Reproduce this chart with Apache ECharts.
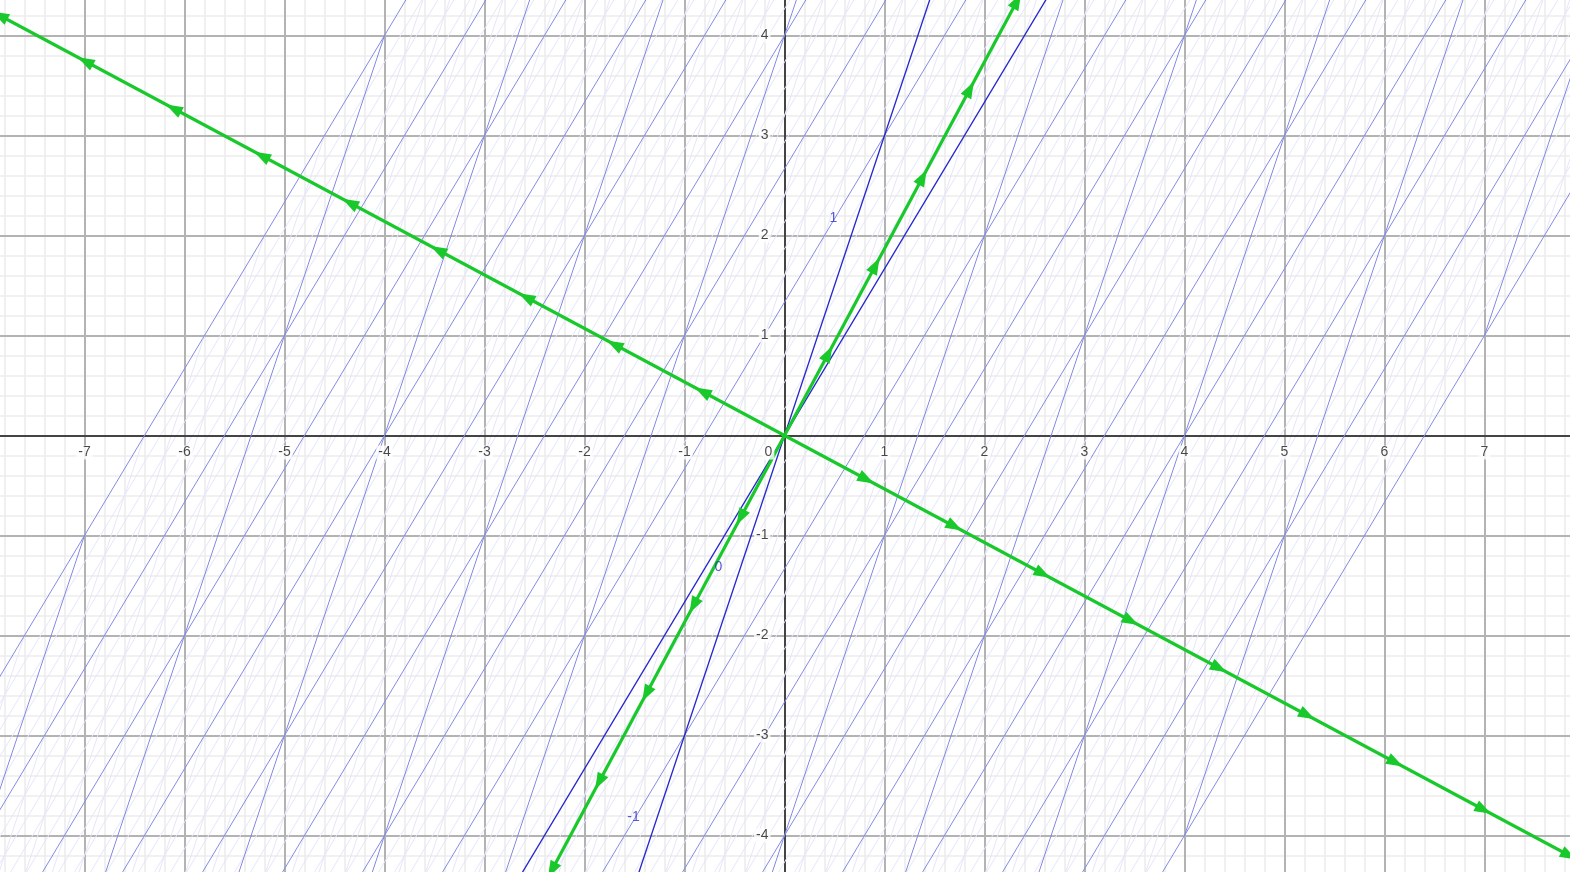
<!DOCTYPE html>
<html>
<head>
<meta charset="utf-8">
<script src="https://cdn.jsdelivr.net/npm/echarts@6/dist/echarts.min.js"></script>
<style>html,body{margin:0;padding:0;background:#fff;}#chart{width:1570px;height:872px;}</style>
</head>
<body>
<div id="chart"></div>
<script>
// ---- data ----
const matrixCol1 = [1, 3];        // image of e1
const matrixCol2 = [3, 5];        // image of e2
const sourceGridExtent = 8;       // source grid spans [-8, 8] x [-8, 8]
const xRange = [-7.845, 7.855];
const yRange = [-4.365, 4.355];
const xTickValues = [-7, -6, -5, -4, -3, -2, -1, 1, 2, 3, 4, 5, 6, 7];
const xTickLabels = ['-7', '-6', '-5', '-4', '-3', '-2', '-1', '1', '2', '3', '4', '5', '6', '7'];
const yTickValues = [-4, -3, -2, -1, 1, 2, 3, 4];
const yTickLabels = ['-4', '-3', '-2', '-1', '1', '2', '3', '4'];
const gridSubdivisions = 5;
const arrowDistances = [0.93, 1.93, 2.93, 3.93, 4.93, 5.93, 6.93, 7.93, 8.9, 9.9];
const lineLabelTexts = ['1', '0', '-1'];
const lineLabelX = [0.49, -0.66, -1.51];
const lineLabelY = [2.17, -1.32, -3.82];

// ---- derived geometry ----
const a = matrixCol1[0], c = matrixCol1[1], b = matrixCol2[0], d = matrixCol2[1];
const tr = a + d, det = a * d - b * c;
const disc = Math.sqrt(tr * tr / 4 - det);
const lambdas = [tr / 2 + disc, tr / 2 - disc];
const eigvecs = lambdas.map(l => {
  const v = [b, l - a];
  const n = Math.hypot(v[0], v[1]);
  return [v[0] / n, v[1] / n];
});
function apply(p) { return [a * p[0] + b * p[1], c * p[0] + d * p[1]]; }

const minorGrid = [], majorGrid = [];
for (let k = -39; k <= 39; k++) {
  const x = k / gridSubdivisions;
  (k % gridSubdivisions === 0 ? majorGrid : minorGrid).push({coords: [[x, yRange[0]], [x, yRange[1]]]});
}
for (let k = -21; k <= 21; k++) {
  const y = k / gridSubdivisions;
  (k % gridSubdivisions === 0 ? majorGrid : minorGrid).push({coords: [[xRange[0], y], [xRange[1], y]]});
}
const xAxisLine = [{coords: [[xRange[0], 0], [xRange[1], 0]]}];
const yAxisLine = [{coords: [[0, yRange[0]], [0, yRange[1]]]}];

const N = sourceGridExtent;
const tMinor = [], tMajor = [], tAxes = [];
for (let k = -N * gridSubdivisions; k <= N * gridSubdivisions; k++) {
  const s = k / gridSubdivisions;
  const vert = {coords: [apply([s, -N]), apply([s, N])]};
  const horiz = {coords: [apply([-N, s]), apply([N, s])]};
  [vert, horiz].forEach(l => {
    if (k === 0) tAxes.push(l); else if (k % gridSubdivisions === 0) tMajor.push(l); else tMinor.push(l);
  });
}

const eigenLines = eigvecs.map(v => ({coords: [[-12 * v[0], -12 * v[1]], [12 * v[0], 12 * v[1]]]}));
const arrowData = [];
eigvecs.forEach(v => {
  [1, -1].forEach(sgn => {
    const ang = Math.atan2(sgn * v[1], sgn * v[0]) * 180 / Math.PI;
    arrowDistances.forEach(dd => {
      arrowData.push({value: [sgn * v[0] * dd, sgn * v[1] * dd], symbolRotate: ang - 90});
    });
  });
});

const xLabelData = xTickValues.map((v, i) => ({value: [v, 0], label: {formatter: xTickLabels[i]}}));
const yLabelData = yTickValues.map((v, i) => ({value: [0, v], label: {formatter: yTickLabels[i]}}));
const lineLabelData = lineLabelTexts.map((t, i) => ({value: [lineLabelX[i], lineLabelY[i]], label: {formatter: t}}));

function linesSeries(data, color, width, z) {
  return {
    type: 'lines', coordinateSystem: 'cartesian2d', polyline: false, silent: true, clip: true,
    data: data, z: z, lineStyle: {color: color, width: width, opacity: 1}, effect: {show: false}
  };
}
const labelFont = {fontFamily: 'Liberation Sans, Arial, sans-serif', fontSize: 14, color: '#1a1a1a'};

const chart = echarts.init(document.getElementById('chart'), null, {renderer: 'canvas'});
chart.setOption({
  animation: false,
  backgroundColor: '#ffffff',
  grid: {left: 0, right: 0, top: 0, bottom: 0, containLabel: false},
  xAxis: {type: 'value', min: xRange[0], max: xRange[1], show: false, splitLine: {show: false}},
  yAxis: {type: 'value', min: yRange[0], max: yRange[1], show: false, splitLine: {show: false}},
  series: [
    linesSeries(minorGrid, '#ededed', 1.6, 1),
    linesSeries(majorGrid, '#b3b3b3', 2, 2),
    linesSeries(yAxisLine, '#444444', 2, 3),
    linesSeries(tMinor, '#e6e6fa', 1, 4),
    linesSeries(xAxisLine, '#444444', 2, 5),
    linesSeries(tMajor, '#848be4', 1, 6),
    linesSeries(tAxes, '#2222cf', 1.3, 7),
    linesSeries(eigenLines, '#19c92b', 3.2, 8),
    {
      type: 'scatter', silent: true, z: 9, symbol: 'triangle', symbolSize: [12, 17],
      itemStyle: {color: '#19c92b', opacity: 1}, data: arrowData, clip: false
    },
    {
      type: 'scatter', silent: true, z: 10, symbolSize: 1, itemStyle: {color: 'rgba(0,0,0,0)'},
      data: xLabelData,
      label: Object.assign({show: true, position: 'inside', offset: [0, 17], align: 'center', verticalAlign: 'middle',
        backgroundColor: '#fff', padding: [0, 2]}, labelFont)
    },
    {
      type: 'scatter', silent: true, z: 10, symbolSize: 1, itemStyle: {color: 'rgba(0,0,0,0)'},
      data: yLabelData,
      label: Object.assign({show: true, position: 'inside', offset: [-14, 0], align: 'right', verticalAlign: 'middle',
        backgroundColor: '#fff', padding: [0, 2]}, labelFont)
    },
    {
      type: 'scatter', silent: true, z: 10, symbolSize: 1, itemStyle: {color: 'rgba(0,0,0,0)'},
      data: [{value: [0, 0], label: {formatter: '0'}}],
      label: Object.assign({show: true, position: 'inside', offset: [-16, 17], align: 'center', verticalAlign: 'middle',
        backgroundColor: '#fff', padding: [0, 2]}, labelFont)
    },
    {
      type: 'scatter', silent: true, z: 10, symbolSize: 1, itemStyle: {color: 'rgba(0,0,0,0)'},
      data: lineLabelData,
      label: {show: true, position: 'inside', align: 'center', verticalAlign: 'middle',
        fontFamily: 'Liberation Sans, Arial, sans-serif', fontSize: 14, color: '#3030c8'}
    }
  ]
});
</script>
</body>
</html>
